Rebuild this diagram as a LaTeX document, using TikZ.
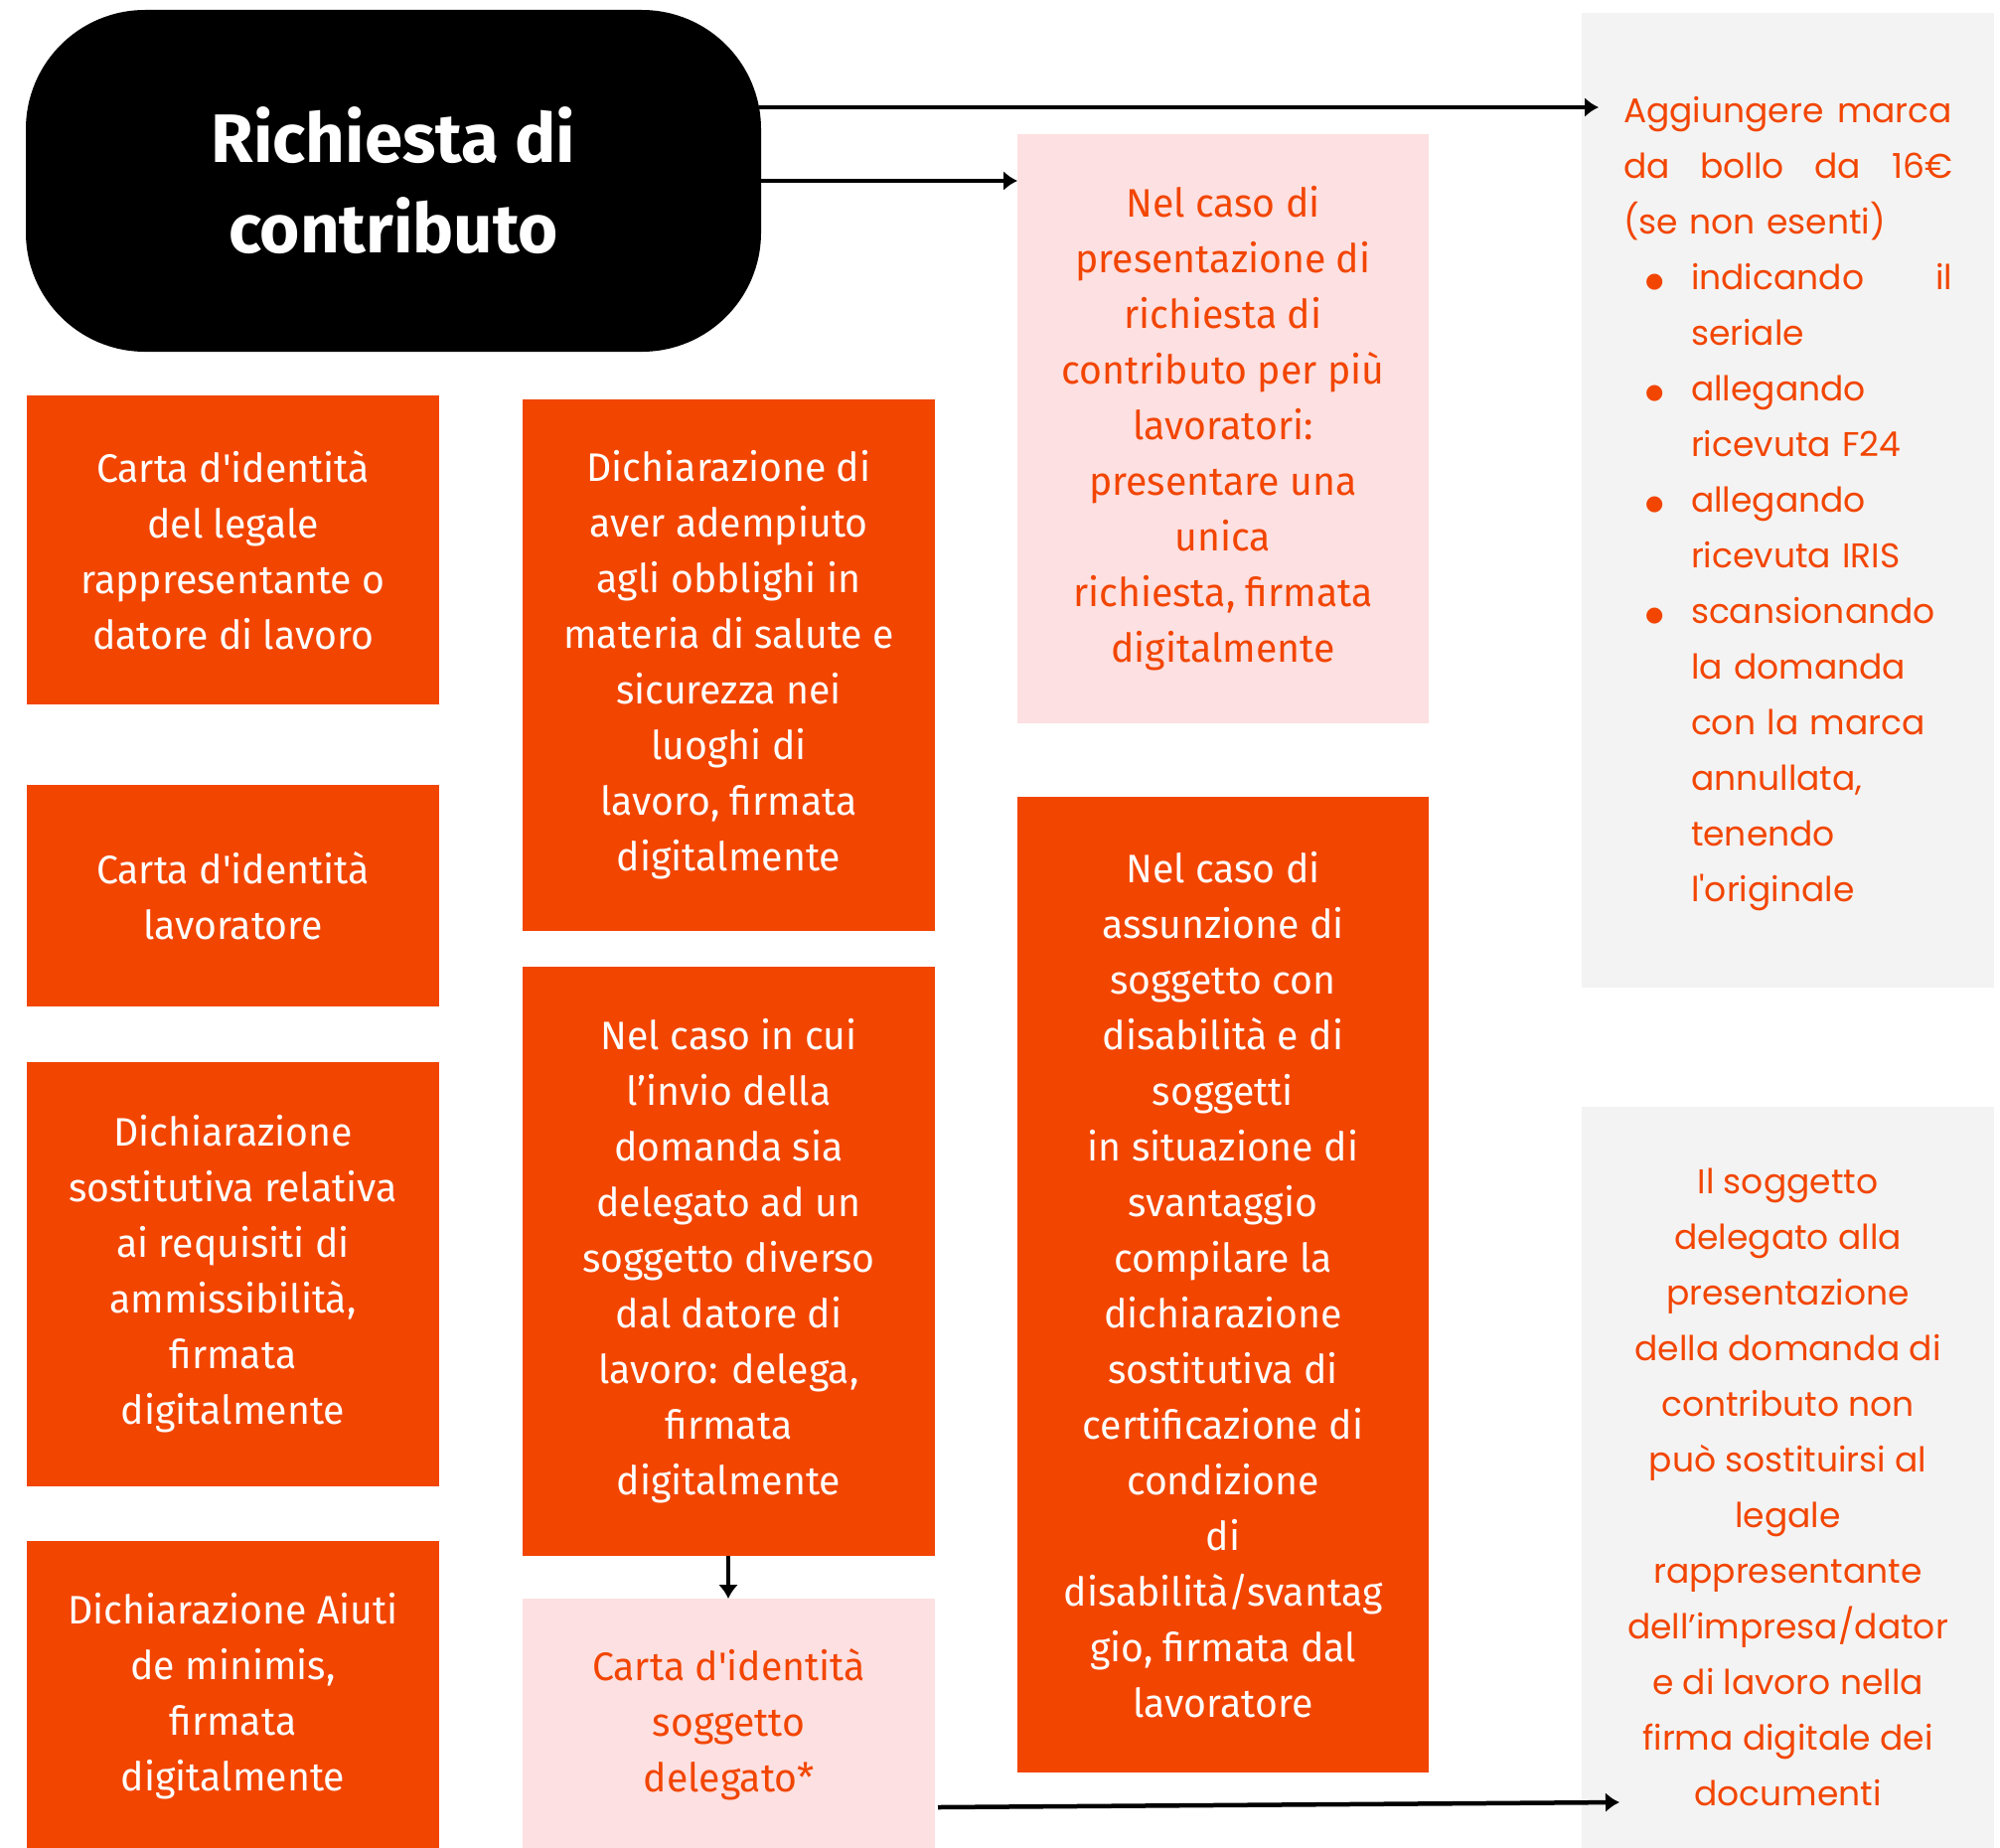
\documentclass[tikz,border=0pt]{standalone}
\usepackage{fontspec}
\usetikzlibrary{arrows.meta,calc}
\newfontfamily\cond[FakeStretch=0.98]{Fira Sans}
\newfontfamily\titlef{Fira Sans}
\newfontfamily\wide{Poppins}
\newfontfamily\dejavu{DejaVu Sans}
\definecolor{org}{HTML}{F24500}
\definecolor{pnk}{HTML}{FDE0E1}
\definecolor{gry}{HTML}{F3F3F3}
\newcommand{\bul}{\hspace*{22pt}\makebox[46pt][l]{\raisebox{2pt}{\dejavu\fontsize{21}{56}\selectfont ●}}}
\begin{document}
\begin{tikzpicture}[x=1pt,y=-1pt,
  box/.style={anchor=north west, inner sep=0pt, outer sep=0pt, align=center},
  obox/.style={box, fill=org, text=white, font=\cond\fontsize{40}{56}\selectfont},
  pbox/.style={box, fill=pnk, text=org, font=\cond\fontsize{40}{56}\selectfont},
  gbox/.style={box, fill=gry},
  gtext/.style={inner sep=0pt, text=org, font=\wide\fontsize{34.5}{56}\selectfont},
  titlebox/.style={box, fill=black, text=white, rounded corners=120pt,
    font=\titlef\bfseries\fontsize{69}{91}\selectfont},
  arr/.style={line width=4.5pt, -{Latex[length=14pt,width=20pt]}}
]
\useasboundingbox (0,0) rectangle (2013,1860);
\fill[white] (0,0) rectangle (2013,1860);

% title
\node[titlebox, minimum width=740pt, minimum height=344pt] (title) at (26,10) {Richiesta di\\contributo};

% grey boxes
\node[gbox, minimum width=415pt, minimum height=981pt] (g1) at (1592,13) {};
\node[gtext, text width=331pt, align=left] (g1t) at ($(g1.center)+(0,4)$) {%
Aggiungere\hfill marca\\
da\hfill bollo\hfill da\hfill 16€\\
(se non esenti)\\
\bul indicando\hfill il\\
\hspace*{68pt}seriale\\
\bul allegando\\
\hspace*{68pt}ricevuta F24\\
\bul allegando\\
\hspace*{68pt}ricevuta IRIS\\
\bul scansionando\\
\hspace*{68pt}la domanda\\
\hspace*{68pt}con la marca\\
\hspace*{68pt}annullata,\\
\hspace*{68pt}tenendo\\
\hspace*{68pt}l'originale};

\node[gbox, minimum width=415pt, minimum height=750pt] (g2) at (1592,1114) {};
\node[gtext, align=center] (g2t) at ($(g2.center)+(0,8)$) {Il soggetto\\delegato alla\\presentazione\\della domanda di\\contributo non\\può sostituirsi al\\legale\\rappresentante\\dell’impresa/dator\\e di lavoro nella\\firma digitale dei\\documenti};

% column 1
\node[obox, minimum width=415pt, minimum height=311pt] (a) at (27,398) {Carta d'identità\\del legale\\rappresentante o\\datore di lavoro};
\node[obox, minimum width=415pt, minimum height=223pt] (b) at (27,790) {Carta d'identità\\lavoratore};
\node[obox, minimum width=415pt, minimum height=427pt] (c) at (27,1069) {Dichiarazione\\sostitutiva relativa\\ai requisiti di\\ammissibilità,\\firmata\\digitalmente};
\node[obox, minimum width=415pt, minimum height=312pt] (d) at (27,1551) {Dichiarazione Aiuti\\de minimis,\\firmata\\digitalmente};

% column 2
\node[obox, minimum width=415pt, minimum height=535pt] (e) at (526,402) {Dichiarazione di\\aver adempiuto\\agli obblighi in\\materia di salute e\\sicurezza nei\\luoghi di\\lavoro, firmata\\digitalmente};
\node[obox, minimum width=415pt, minimum height=593pt] (f) at (526,973) {Nel caso in cui\\l’invio della\\domanda sia\\delegato ad un\\soggetto diverso\\dal datore di\\lavoro: delega,\\firmata\\digitalmente};
\node[pbox, minimum width=415pt, minimum height=254pt] (g) at (526,1609) {Carta d'identità\\soggetto\\delegato*};

% column 3
\node[pbox, minimum width=414pt, minimum height=593pt] (p) at (1024,135) {Nel caso di\\presentazione di\\richiesta di\\contributo per più\\lavoratori:\\presentare una\\unica\\richiesta, firmata\\digitalmente};
\node[obox, minimum width=414pt, minimum height=982pt] (h) at (1024,802) {Nel caso di\\assunzione di\\soggetto con\\disabilità e di\\soggetti\\in situazione di\\svantaggio\\compilare la\\dichiarazione\\sostitutiva di\\certificazione di\\condizione\\di\\disabilità/svantag\\gio, firmata dal\\lavoratore};

% connectors
\coordinate (g1in) at (1609,108);
\coordinate (g2in) at (1630,1814);
\draw[arr] ($(title.north east)+(-2,98)$) -- (g1in);
\draw[arr] (title.east) -- (p.west |- title.east);
\draw[arr] (f.south -| 733,0) -- (g.north -| 733,0);
\draw[arr] ($(g.north east)+(3,210)$) -- (g2in);
\end{tikzpicture}
\end{document}
